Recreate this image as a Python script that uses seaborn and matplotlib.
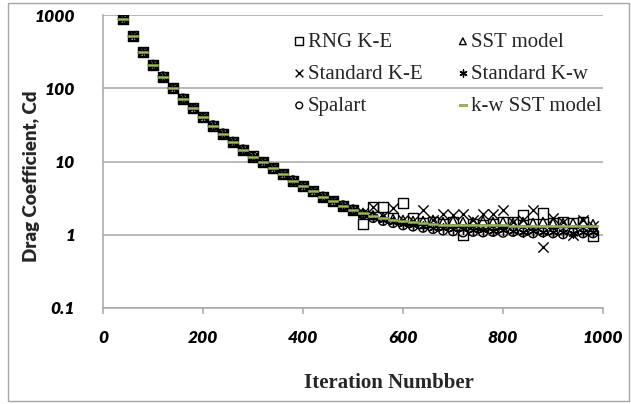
import matplotlib
matplotlib.use("Agg")
import matplotlib.pyplot as plt
from matplotlib.patches import Rectangle
import seaborn as sns
import pandas as pd

# iterations (every 20th iteration)
iters = list(range(40, 1000, 20))

# common early part (all models overlap up to ~500 iterations)
early = [880, 510, 310, 208, 144, 100, 72, 53, 40, 31, 24, 18.5, 14.5, 11.7,
         9.8, 8.1, 6.7, 5.5, 4.6, 3.9, 3.3, 2.85, 2.5, 2.2]

rng_ke = early + [1.4, 2.4, 2.4, 1.7, 2.75, 1.7, 1.45, 1.5, 1.4, 1.5, 1.0, 1.4,
                  1.35, 1.4, 1.5, 1.5, 1.85, 1.4, 1.95, 1.45, 1.5, 1.45, 1.5, 0.96]
sst = early + [2.0, 1.85, 1.75, 1.65, 1.6, 1.55, 1.55, 1.6, 1.5, 1.55, 1.5, 1.5,
               1.55, 1.5, 1.5, 1.45, 1.5, 1.45, 1.5, 1.45, 1.45, 1.45, 1.5, 1.4]
std_ke = early + [2.0, 2.4, 1.8, 2.35, 1.6, 1.55, 2.2, 1.6, 1.9, 1.85, 1.95, 1.6,
                  1.95, 1.95, 2.15, 1.5, 1.6, 2.15, 0.67, 1.7, 1.5, 0.98, 1.6, 1.3]
std_kw = early + [1.95, 1.75, 1.6, 1.5, 1.42, 1.35, 1.3, 1.25, 1.22, 1.2, 1.18, 1.15,
                  1.15, 1.12, 1.15, 1.12, 1.1, 1.12, 1.1, 1.08, 1.1, 1.05, 1.1, 1.08]
spalart = early + [1.9, 1.7, 1.55, 1.45, 1.35, 1.3, 1.25, 1.2, 1.15, 1.12, 1.08, 1.1,
                   1.08, 1.1, 1.07, 1.1, 1.08, 1.05, 1.08, 1.05, 1.02, 1.08, 1.05, 1.05]
kw_sst = early + [1.97, 1.82, 1.7, 1.6, 1.52, 1.47, 1.43, 1.4, 1.38, 1.37, 1.36, 1.35,
                  1.35, 1.34, 1.34, 1.33, 1.33, 1.33, 1.32, 1.32, 1.32, 1.32, 1.31, 1.31]

xticks = [0, 200, 400, 600, 800, 1000]
yticks = [0.1, 1, 10, 100, 1000]
ytick_labels = ["0.1", "1", "10", "100", "1000"]

sns.set_theme(style="white")
plt.rcParams['font.family'] = ['Lato', 'DejaVu Sans']

fig = plt.figure(figsize=(6.31, 4.04), dpi=100)
ax = fig.add_axes([103 / 631, 1 - 308 / 404, 500 / 631, 293 / 404])

dash = [(-1, -0.25), (1, -0.25), (1, 0.25), (-1, 0.25), (-1, -0.25)]
series = [
    ("RNG K-E", rng_ke, dict(marker='s', s=52, facecolor='none', edgecolor='black', linewidth=1.0)),
    ("Standard K-E", std_ke, dict(marker='x', s=55, color='black', linewidth=1.0)),
    ("Spalart", spalart, dict(marker='o', s=42, facecolor='none', edgecolor='black', linewidth=1.0)),
    ("SST model", sst, dict(marker='^', s=42, facecolor='none', edgecolor='black', linewidth=1.0)),
    ("Standard K-w", std_kw, dict(marker=(6, 2, 0), s=45, color='black', linewidth=1.0)),
    ("k-w SST model", kw_sst, dict(marker=dash, s=60, facecolor='#9bbb59', edgecolor='#7d9a45', linewidth=0.5)),
]

for name, vals, kw in series:
    df = pd.DataFrame({"Iteration": iters, "Cd": vals})
    sns.scatterplot(data=df, x="Iteration", y="Cd", ax=ax, label=name, zorder=3, **kw)

ax.set_yscale('log')
ax.set_xlim(0, 1000)
ax.set_ylim(0.1, 1000)
ax.set_yticks(yticks)
ax.set_yticklabels(ytick_labels)
ax.set_xticks(xticks)
ax.minorticks_off()

grid_c = '#a6a6a6'
ax.grid(axis='y', color=grid_c, linewidth=1.1)
ax.grid(axis='x', visible=False)
for side in ['top', 'right']:
    ax.spines[side].set_visible(False)
for side in ['left', 'bottom']:
    ax.spines[side].set_color(grid_c)
    ax.spines[side].set_linewidth(1.1)

ax.tick_params(axis='x', bottom=True, direction='out', length=4.5, width=1.1,
               color=grid_c, pad=11)
ax.tick_params(axis='y', left=False, pad=14)
for lab in ax.get_xticklabels() + ax.get_yticklabels():
    lab.set_fontweight('heavy')
    lab.set_fontstyle('italic')
    lab.set_fontsize(12.5)
    lab.set_color('black')

ax.set_xlabel("Iteration Numbber", family='Liberation Serif', fontweight='bold',
              fontsize=15)
ax.xaxis.set_label_coords(0.572, -0.222)
ax.set_ylabel("Drag Coefficient, Cd", fontweight='heavy', fontsize=13.5)
ax.yaxis.set_label_coords(-0.126, 0.45)

ax.legend(loc='upper left', bbox_to_anchor=(0.355, 0.97), ncol=2, frameon=False,
          prop={'family': 'Liberation Serif', 'size': 15}, handletextpad=-0.1,
          columnspacing=1.45, labelspacing=0.6, handlelength=1.0, markerscale=0.75,
          borderaxespad=0.0)

fig.add_artist(Rectangle((8 / 631, 3 / 404), 621 / 631, 398 / 404, transform=fig.transFigure,
                         fill=False, edgecolor='#a6a6a6', linewidth=1.0))

fig.savefig("out.png", dpi=100)
